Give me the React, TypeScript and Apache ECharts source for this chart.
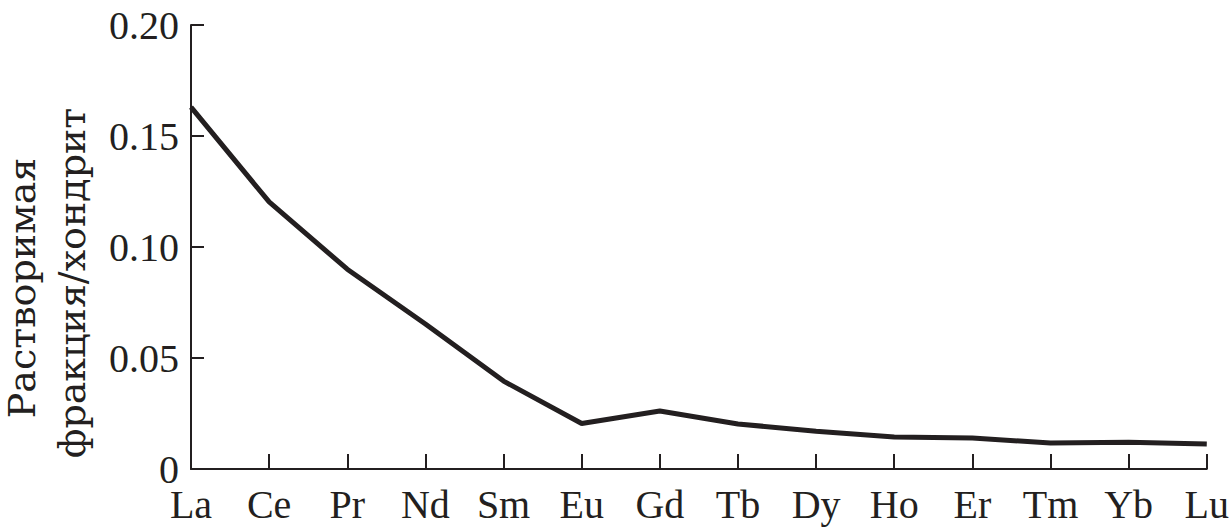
import React, { useEffect, useRef } from "react";
import * as echarts from "echarts";

const categories = ["La", "Ce", "Pr", "Nd", "Sm", "Eu", "Gd", "Tb", "Dy", "Ho", "Er", "Tm", "Yb", "Lu"];
const values = [0.163, 0.1203, 0.09, 0.0653, 0.0396, 0.0205, 0.0261, 0.0203, 0.017, 0.0144, 0.014, 0.0117, 0.0121, 0.0113];
const yTicks = [0, 0.05, 0.1, 0.15, 0.2];
const yLabelLines = ["Растворимая", "фракция/хондрит"];

const INK = "#231f20";
const FONT = "Liberation Serif";
const CYR_FONT = "DejaVu Serif";

export default function App() {
  const ref = useRef<HTMLDivElement>(null);
  useEffect(() => {
    if (!ref.current) return;
    const chart = echarts.init(ref.current, null, { renderer: "svg" });
    chart.setOption({
      animation: false,
      backgroundColor: "#ffffff",
      grid: { left: 191, right: 25, top: 25, bottom: 60, containLabel: false },
      xAxis: {
        type: "category",
        data: categories,
        boundaryGap: false,
        axisLine: { lineStyle: { color: INK, width: 2 } },
        axisTick: { inside: true, length: 15, lineStyle: { color: INK, width: 2 }, alignWithLabel: true },
        axisLabel: { color: INK, fontFamily: FONT, fontSize: 40, margin: 15, interval: 0 },
        splitLine: { show: false },
      },
      yAxis: {
        type: "value",
        min: yTicks[0],
        max: yTicks[yTicks.length - 1],
        interval: 0.05,
        axisLine: { show: true, lineStyle: { color: INK, width: 2 } },
        axisTick: { show: true, inside: true, length: 13, lineStyle: { color: INK, width: 2 } },
        axisLabel: {
          color: INK,
          fontFamily: FONT,
          fontSize: 40,
          margin: 12,
          formatter: (v: number) => (v === 0 ? "0" : v.toFixed(2)),
        },
        splitLine: { show: false },
      },
      graphic: yLabelLines.map((t, i) => ({
        type: "text",
        x: i === 0 ? 22 : 72,
        y: i === 0 ? 288 : 283,
        rotation: Math.PI / 2,
        style: {
          text: t,
          fill: INK,
          fontFamily: CYR_FONT,
          fontSize: 38,
          align: "center",
          verticalAlign: "middle",
        },
      })),
      series: [
        {
          type: "line",
          data: values,
          symbol: "none",
          lineStyle: { color: INK, width: 5 },
        },
      ],
    });
    return () => chart.dispose();
  }, []);
  return <div ref={ref} style={{ width: 1232, height: 529, position: "absolute", left: 0, top: 0 }} />;
}
